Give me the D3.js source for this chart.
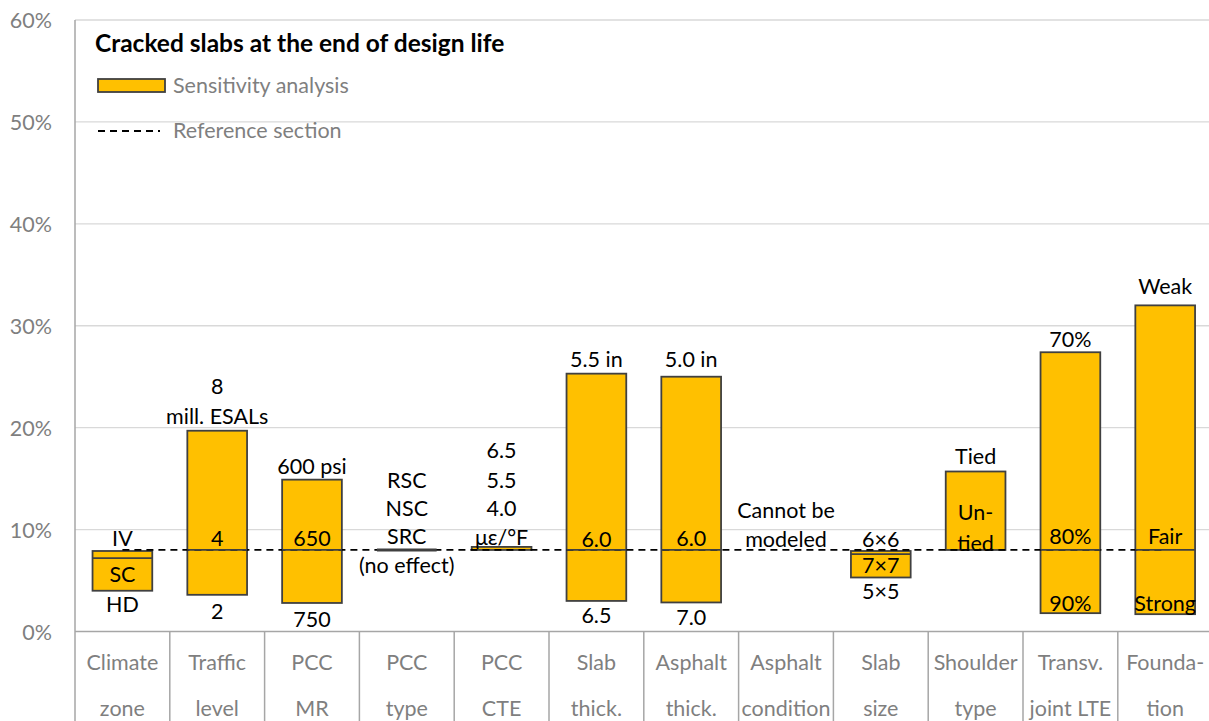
<!DOCTYPE html>
<html>
<head>
<meta charset="utf-8">
<script src="https://cdn.jsdelivr.net/npm/d3@7"></script>
<style>
  body { margin: 0; background: #fff; }
  svg { display: block; font-family: Lato, "Open Sans", sans-serif; }
</style>
</head>
<body>
<div id="graph"></div>
<script>
// categories (two-line labels)
var categories = ["Climate zone", "Traffic level", "PCC MR", "PCC type", "PCC CTE", "Slab thick.",
  "Asphalt thick.", "Asphalt condition", "Slab size", "Shoulder type", "Transv. joint LTE", "Founda- tion"];
var catLines = [["Climate", "zone"], ["Traffic", "level"], ["PCC", "MR"], ["PCC", "type"], ["PCC", "CTE"],
  ["Slab", "thick."], ["Asphalt", "thick."], ["Asphalt", "condition"], ["Slab", "size"],
  ["Shoulder", "type"], ["Transv.", "joint LTE"], ["Founda-", "tion"]];

// cracked slabs, % (low / high end of sensitivity range, inner line)
var lowVals  = [4.0, 3.6, 2.8, 8.0, 8.0, 3.0, 2.85, null, 5.3, 8.0, 1.8, 1.7];
var highVals = [7.9, 19.7, 14.9, 8.0, 8.3, 25.3, 25.0, null, 7.9, 15.7, 27.4, 32.0];
var midVals  = [7.2, 8.0, 8.0, null, null, 8.0, 8.0, null, 7.6, null, 8.0, 8.0];
var reference = 8.0;

var yTicks = [0, 10, 20, 30, 40, 50, 60];

// text labels: [category index, text, level in %]
var valueLabels = [
  [0, "IV", 8.4], [0, "SC", 4.9], [0, "HD", 1.9],
  [1, "8", 23.3], [1, "mill. ESALs", 20.4], [1, "4", 8.4], [1, "2", 1.2],
  [2, "600 psi", 15.5], [2, "650", 8.4], [2, "750", 0.4],
  [3, "RSC", 14.1], [3, "NSC", 11.3], [3, "SRC", 8.6], [3, "(no effect)", 5.7],
  [4, "6.5", 17.0], [4, "5.5", 14.1], [4, "4.0", 11.3], [4, "\u03bc\u03b5/\u00b0F", 8.5],
  [5, "5.5 in", 26.0], [5, "6.0", 8.3], [5, "6.5", 0.8],
  [6, "5.0 in", 26.0], [6, "6.0", 8.4], [6, "7.0", 0.6],
  [7, "Cannot be", 11.1], [7, "modeled", 8.3],
  [8, "6\u00d76", 8.3], [8, "7\u00d77", 5.7], [8, "5\u00d75", 3.2],
  [9, "Tied", 16.4], [9, "Un-", 10.9], [9, "tied", 7.9],
  [10, "70%", 27.9], [10, "80%", 8.6], [10, "90%", 2.0],
  [11, "Weak", 33.1], [11, "Fair", 8.6], [11, "Strong", 2.0]
];

var W = 1209, H = 721;
var svg = d3.select("#graph").append("svg").attr("width", W).attr("height", H);

var x = d3.scaleBand().domain(d3.range(categories.length)).range([75, 1212.6]).padding(0);
var y = d3.scaleLinear().domain([0, 60]).range([631.5, 20]);
var barW = x.bandwidth() * 0.63;
var fs = "21.5px";

// gridlines
svg.selectAll("line.grid").data(yTicks.slice(1)).enter().append("line")
  .attr("x1", 75).attr("x2", W)
  .attr("y1", function(d) { return y(d); }).attr("y2", function(d) { return y(d); })
  .style("stroke", "#d9d9d9").style("stroke-width", 1.3);

svg.selectAll("text.ytick").data(yTicks).enter().append("text")
  .attr("x", 52).attr("y", function(d) { return y(d) + 8; })
  .attr("text-anchor", "end")
  .style("font-size", fs).style("fill", "#7f7f7f")
  .text(function(d) { return d + "%"; });

// category boxes
svg.append("line").attr("x1", 75).attr("x2", W).attr("y1", y(0)).attr("y2", y(0))
  .style("stroke", "#a6a6a6").style("stroke-width", 1.5);
svg.append("line").attr("x1", 75).attr("x2", 75).attr("y1", y(60)).attr("y2", H)
  .style("stroke", "#a6a6a6").style("stroke-width", 1.5);
svg.selectAll("line.sep").data(d3.range(1, categories.length)).enter().append("line")
  .attr("x1", function(d) { return x(d); }).attr("x2", function(d) { return x(d); })
  .attr("y1", y(0)).attr("y2", H)
  .style("stroke", "#a6a6a6").style("stroke-width", 1.5);

var catG = svg.selectAll("g.cat").data(catLines).enter().append("g")
  .attr("transform", function(d, i) { return "translate(" + (x(i) + x.bandwidth() / 2) + ",0)"; });
catG.append("text").attr("y", 670).attr("text-anchor", "middle")
  .style("font-size", fs).style("fill", "#7f7f7f").text(function(d) { return d[0]; });
catG.append("text").attr("y", 716).attr("text-anchor", "middle")
  .style("font-size", fs).style("fill", "#7f7f7f").text(function(d) { return d[1]; });

// bars
var idx = d3.range(categories.length).filter(function(i) { return lowVals[i] != null && highVals[i] > lowVals[i]; });
svg.selectAll("rect.bar").data(idx).enter().append("rect")
  .attr("x", function(i) { return x(i) + (x.bandwidth() - barW) / 2; })
  .attr("width", barW)
  .attr("y", function(i) { return y(highVals[i]); })
  .attr("height", function(i) { return y(lowVals[i]) - y(highVals[i]); })
  .style("fill", "#ffc000").style("stroke", "#404040").style("stroke-width", 1.8);

// reference dashed line
svg.append("line")
  .attr("x1", x(0) + x.bandwidth() / 2).attr("x2", x(11) + x.bandwidth() / 2)
  .attr("y1", y(reference)).attr("y2", y(reference))
  .style("stroke", "#000").style("stroke-width", 1.8).style("stroke-dasharray", "7,5");

// zero-range bars (no effect) drawn as a flat line
var flat = d3.range(categories.length).filter(function(i) { return lowVals[i] != null && highVals[i] === lowVals[i]; });
svg.selectAll("line.flat").data(flat).enter().append("line")
  .attr("x1", function(i) { return x(i) + (x.bandwidth() - barW) / 2; })
  .attr("x2", function(i) { return x(i) + (x.bandwidth() + barW) / 2; })
  .attr("y1", function(i) { return y(lowVals[i]); }).attr("y2", function(i) { return y(lowVals[i]); })
  .style("stroke", "#404040").style("stroke-width", 3);

// inner lines
svg.selectAll("line.mid").data(idx.filter(function(i) { return midVals[i] != null; })).enter().append("line")
  .attr("x1", function(i) { return x(i) + (x.bandwidth() - barW) / 2; })
  .attr("x2", function(i) { return x(i) + (x.bandwidth() + barW) / 2; })
  .attr("y1", function(i) { return y(midVals[i]); }).attr("y2", function(i) { return y(midVals[i]); })
  .style("stroke", "#404040").style("stroke-width", 1.8);

// value labels
svg.selectAll("text.val").data(valueLabels).enter().append("text")
  .attr("x", function(d) { return x(d[0]) + x.bandwidth() / 2; })
  .attr("y", function(d) { return y(d[2]); })
  .attr("text-anchor", "middle")
  .style("font-size", fs).style("fill", "#000")
  .text(function(d) { return d[1]; });

// title + legend
svg.append("text").attr("x", 95).attr("y", 52)
  .style("font-size", "24.5px").style("font-weight", "bold").style("fill", "#000")
  .text("Cracked slabs at the end of design life");
svg.append("rect").attr("x", 98).attr("y", 79).attr("width", 67).attr("height", 13)
  .style("fill", "#ffc000").style("stroke", "#404040").style("stroke-width", 1.8);
svg.append("text").attr("x", 173).attr("y", 93)
  .style("font-size", fs).style("fill", "#7f7f7f").text("Sensitivity analysis");
svg.append("line").attr("x1", 98).attr("x2", 160).attr("y1", 131).attr("y2", 131)
  .style("stroke", "#000").style("stroke-width", 1.8).style("stroke-dasharray", "7,5");
svg.append("text").attr("x", 173).attr("y", 138)
  .style("font-size", fs).style("fill", "#7f7f7f").text("Reference section");
</script>
</body>
</html>
